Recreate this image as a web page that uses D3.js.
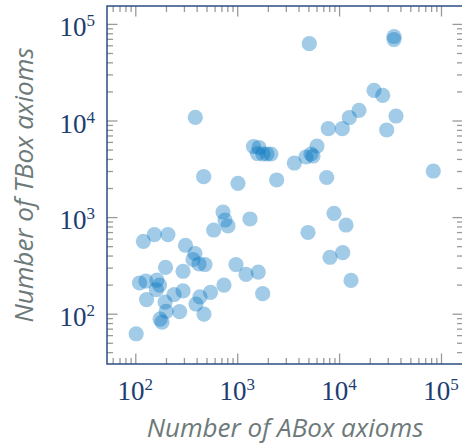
<!DOCTYPE html>
<html>
<head>
<meta charset="utf-8">
<script src="https://cdn.jsdelivr.net/npm/d3@7"></script>
<style>
  html, body { margin: 0; padding: 0; background: #fff; }
  svg { display: block; }
</style>
</head>
<body>
<svg id="chart" width="462" height="444"></svg>
<script>
// ---- Data ----
const aboxAxioms = [
  5100, 34580, 34580, 22000, 26790, 15680, 12600, 10750, 7830, 36180,
  29320, 388, 6070, 5300, 5545, 4735, 3635, 1445, 1637, 1582,
  1792, 1961, 2146, 7555, 2441, 1018, 469, 84030, 726, 759,
  812, 1335, 8913, 11690, 4953, 588, 120, 154, 209, 311,
  385, 368, 422, 483, 198, 294, 973, 1220, 1611, 1779,
  8140, 10850, 13090, 110, 127, 163, 173, 161, 129, 196,
  240, 294, 201, 175, 183, 272, 431, 394, 472, 547,
  742, 102
];
const tboxAxioms = [
  62400, 74050, 68930, 20540, 18240, 12750, 10690, 8225, 8225, 11130,
  7975, 10790, 5445, 4500, 4290, 4190, 3630, 5380, 5255, 4553,
  4500, 4500, 4500, 2570, 2422, 2238, 2620, 3000, 1129, 933,
  809, 956, 1095, 828, 693, 735, 562, 660, 660, 511,
  420, 364, 327, 323, 302, 275, 323, 255, 270, 161,
  384, 428, 221, 208, 218, 223, 198, 177, 140, 132,
  158, 172, 106, 88, 82, 105, 149, 126, 99, 166,
  198, 62
];
const xMajorTicks = [1e2, 1e3, 1e4, 1e5];
const yMajorTicks = [1e2, 1e3, 1e4, 1e5];
const xTickExponents = ["2", "3", "4", "5"];
const yTickExponents = ["2", "3", "4", "5"];
const xTitle = "Number of ABox axioms";
const yTitle = "Number of TBox axioms";

// ---- Layout ----
const box = { left: 107, right: 463, top: 6, bottom: 364 };
const navy = "#1d3d70";
const frameColor = "#2b4d85";
const tickGrey = "#9a9a9a";
const titleGrey = "#6e7a7a";
const dotColor = "#0072bd";

const svg = d3.select("#chart");

const x = d3.scaleLog()
  .domain([Math.pow(10, 1.7223), Math.pow(10, 5.2159)])
  .range([box.left, box.right]);
const y = d3.scaleLog()
  .domain([Math.pow(10, 1.4793), Math.pow(10, 5.1853)])
  .range([box.bottom, box.top]);

const isMajor = v => Math.abs(Math.log10(v) - Math.round(Math.log10(v))) < 1e-9;
const xAll = x.ticks().filter(v => v >= x.domain()[0] && v <= x.domain()[1]);
const yAll = y.ticks().filter(v => v >= y.domain()[0] && v <= y.domain()[1]);
const xMinor = xAll.filter(v => !isMajor(v));
const yMinor = yAll.filter(v => !isMajor(v));

function styleTicks(g) {
  g.select(".domain").remove();
  g.selectAll(".tick line").attr("stroke", tickGrey).attr("stroke-width", 1.3);
  g.selectAll(".tick text").remove();
}

// inward ticks on all four sides
const minorLen = 6, majorLen = 10.5;
[[xMinor, minorLen], [xMajorTicks, majorLen]].forEach(([vals, len]) => {
  svg.append("g").attr("transform", `translate(0,${box.bottom})`)
    .call(d3.axisBottom(x).tickValues(vals).tickSize(-len).tickFormat(""))
    .call(styleTicks);
  svg.append("g").attr("transform", `translate(0,${box.top})`)
    .call(d3.axisTop(x).tickValues(vals).tickSize(-len).tickFormat(""))
    .call(styleTicks);
});
[[yMinor, minorLen], [yMajorTicks, majorLen]].forEach(([vals, len]) => {
  svg.append("g").attr("transform", `translate(${box.left},0)`)
    .call(d3.axisLeft(y).tickValues(vals).tickSize(-len).tickFormat(""))
    .call(styleTicks);
  svg.append("g").attr("transform", `translate(${box.right},0)`)
    .call(d3.axisRight(y).tickValues(vals).tickSize(-len).tickFormat(""))
    .call(styleTicks);
});

// frame
svg.append("rect")
  .attr("x", box.left).attr("y", box.top)
  .attr("width", box.right - box.left).attr("height", box.bottom - box.top)
  .attr("fill", "none").attr("stroke", frameColor).attr("stroke-width", 1.5);

// points
const points = aboxAxioms.map((a, i) => ({ a, t: tboxAxioms[i] }));
svg.append("g").selectAll("circle").data(points).join("circle")
  .attr("cx", d => x(d.a))
  .attr("cy", d => y(d.t))
  .attr("r", 7.6)
  .attr("fill", dotColor)
  .attr("fill-opacity", 0.37);

// tick labels with superscripts
const labelFont = "'Liberation Serif', 'Times New Roman', serif";
xMajorTicks.forEach((v, i) => {
  const t = svg.append("text")
    .attr("x", x(v)).attr("y", 399.5)
    .attr("text-anchor", "middle")
    .attr("font-family", labelFont).attr("font-size", 27)
    .attr("fill", navy);
  t.append("tspan").text("10");
  t.append("tspan").attr("font-size", 17).attr("dy", -10).text(xTickExponents[i]);
});
yMajorTicks.forEach((v, i) => {
  const t = svg.append("text")
    .attr("x", 95).attr("y", y(v) + 12)
    .attr("text-anchor", "end")
    .attr("font-family", labelFont).attr("font-size", 27)
    .attr("fill", navy);
  t.append("tspan").text("10");
  t.append("tspan").attr("font-size", 17).attr("dy", -10).text(yTickExponents[i]);
});

// axis titles
const titleFont = "'Open Sans', 'Noto Sans', sans-serif";
svg.append("text")
  .attr("x", (box.left + box.right) / 2).attr("y", 437)
  .attr("text-anchor", "middle")
  .attr("font-family", titleFont).attr("font-style", "italic")
  .attr("font-size", 26).attr("fill", titleGrey)
  .text(xTitle);
svg.append("text")
  .attr("transform", `translate(32.5,${(box.top + box.bottom) / 2}) rotate(-90)`)
  .attr("text-anchor", "middle")
  .attr("font-family", titleFont).attr("font-style", "italic")
  .attr("font-size", 26).attr("fill", titleGrey)
  .text(yTitle);
</script>
</body>
</html>
